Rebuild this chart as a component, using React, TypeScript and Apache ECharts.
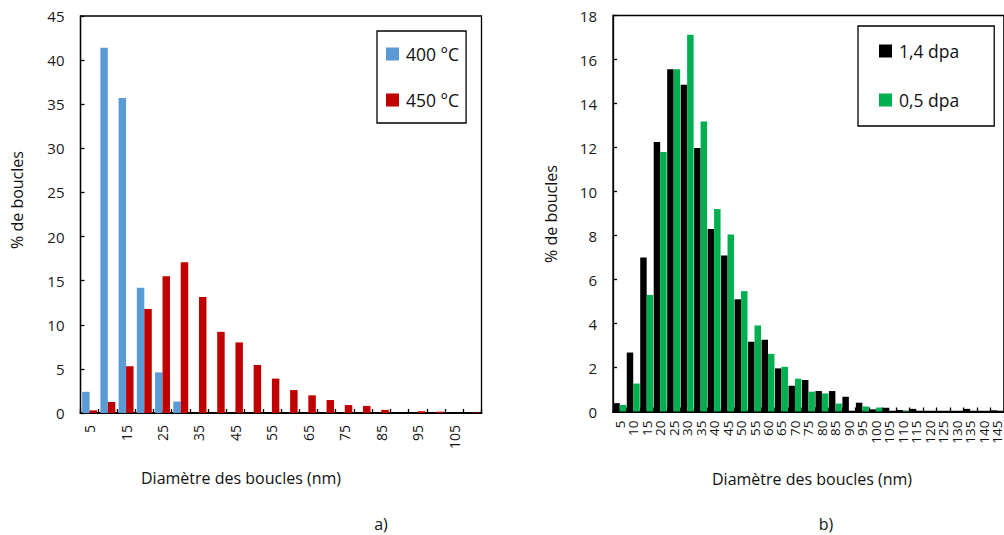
import React, { useEffect, useRef } from "react";
import * as echarts from "echarts";

const FONT = "Open Sans";

const leftCats = ["5","10","15","20","25","30","35","40","45","50","55","60","65","70","75","80","85","90","95","100","105","110"];
const s400 = [2.4, 41.4, 35.7, 14.2, 4.6, 1.3, 0, 0, 0, 0, 0, 0, 0, 0, 0, 0, 0, 0, 0, 0, 0, 0];
const s450 = [0.3, 1.25, 5.3, 11.8, 15.5, 17.1, 13.15, 9.2, 8.0, 5.45, 3.9, 2.6, 2.0, 1.47, 0.9, 0.8, 0.35, 0, 0.2, 0.15, 0, 0.05];

const rightCats = ["5","10","15","20","25","30","35","40","45","50","55","60","65","70","75","80","85","90","95","100","105","110","115","120","125","130","135","140","145"];
const s14 = [0.38, 2.68, 7.0, 12.25, 15.56, 14.85, 11.98, 8.3, 7.09, 5.1, 3.17, 3.26, 1.96, 1.17, 1.43, 0.93, 0.93, 0.67, 0.4, 0.1, 0.17, 0.07, 0.12, 0, 0, 0, 0.12, 0, 0.05];
const s05 = [0.3, 1.27, 5.3, 11.8, 15.56, 17.12, 13.18, 9.21, 8.05, 5.47, 3.91, 2.62, 2.03, 1.49, 0.9, 0.82, 0.36, 0, 0.23, 0.18, 0, 0.03, 0, 0, 0, 0, 0, 0, 0];

const leftTicks = { min: 0, max: 45, interval: 5 };
const rightTicks = { min: 0, max: 18, interval: 2 };

export default function App() {
  const ref = useRef<HTMLDivElement>(null);
  useEffect(() => {
    if (!ref.current) return;
    const chart = echarts.init(ref.current, null, { renderer: "svg" });
    const axisLabelY = { fontFamily: FONT, fontSize: 15, color: "#1a1a1a", margin: 16 };
    const legendBase = {
      orient: "vertical",
      itemWidth: 13,
      itemHeight: 13,
      icon: "rect",
      borderColor: "#000",
      borderWidth: 1.3,
      textStyle: { fontFamily: FONT, fontSize: 17.5, color: "#111", lineHeight: 13, padding: [0, 0, 0, 2] },
    };
    const titleStyle = { fontFamily: FONT, fontSize: 16, fill: "#111", textAlign: "center", textVerticalAlign: "middle" };
    chart.setOption({
      animation: false,
      backgroundColor: "#fff",
      grid: [
        { left: 80.5, top: 16, width: 401, height: 397, show: true, borderColor: "#000", borderWidth: 1.3, containLabel: false },
        { left: 613, top: 15.5, right: -7, height: 396, show: true, borderColor: "#000", borderWidth: 1.3, containLabel: false },
      ],
      xAxis: [
        {
          type: "category", gridIndex: 0, data: leftCats,
          axisLine: { lineStyle: { color: "#000", width: 2 } },
          axisTick: { show: true, inside: true, length: 4, interval: 0, lineStyle: { color: "#000", width: 1.3 } },
          axisLabel: { interval: 1, rotate: 90, fontFamily: FONT, fontSize: 14, color: "#111", margin: 12 },
        },
        {
          type: "category", gridIndex: 1, data: rightCats,
          axisLine: { lineStyle: { color: "#000", width: 2 } },
          axisTick: { show: true, inside: true, length: 4, interval: 0, lineStyle: { color: "#000", width: 1.3 } },
          axisLabel: { interval: 0, rotate: 90, fontFamily: FONT, fontSize: 13.5, color: "#111", margin: 9 },
        },
      ],
      yAxis: [
        {
          type: "value", gridIndex: 0, ...leftTicks,
          splitLine: { show: false },
          axisLine: { show: true, lineStyle: { color: "#000", width: 1.3 } },
          axisTick: { show: true, inside: true, length: 4, lineStyle: { color: "#000", width: 1.3 } },
          axisLabel: axisLabelY,
        },
        {
          type: "value", gridIndex: 1, ...rightTicks,
          splitLine: { show: false },
          axisLine: { show: true, lineStyle: { color: "#000", width: 1.3 } },
          axisTick: { show: true, inside: true, length: 4, lineStyle: { color: "#000", width: 1.3 } },
          axisLabel: axisLabelY,
        },
      ],
      legend: [
        { ...legendBase, data: ["400 °C", "450 °C"], left: 377, top: 31, itemGap: 28, padding: [14, 7, 14, 9] },
        { ...legendBase, data: ["1,4 dpa", "0,5 dpa"], left: 858, top: 26, itemGap: 31, padding: [16, 35, 17, 21] },
      ],
      series: [
        { type: "bar", name: "400 °C", xAxisIndex: 0, yAxisIndex: 0, data: s400, itemStyle: { color: "#5B9BD5" }, barGap: "0%", barCategoryGap: "18%" },
        { type: "bar", name: "450 °C", xAxisIndex: 0, yAxisIndex: 0, data: s450, itemStyle: { color: "#C00000" }, barGap: "0%", barCategoryGap: "18%" },
        { type: "bar", name: "1,4 dpa", xAxisIndex: 1, yAxisIndex: 1, data: s14, itemStyle: { color: "#000000" }, barGap: "0%", barCategoryGap: "4%" },
        { type: "bar", name: "0,5 dpa", xAxisIndex: 1, yAxisIndex: 1, data: s05, itemStyle: { color: "#00B050" }, barGap: "0%", barCategoryGap: "4%" },
      ],
      graphic: [
        { type: "text", x: 17, y: 200, rotation: Math.PI / 2, style: { ...titleStyle, text: "% de boucles" } },
        { type: "text", x: 551, y: 214, rotation: Math.PI / 2, style: { ...titleStyle, text: "% de boucles" } },
        { type: "text", x: 241, y: 478, style: { ...titleStyle, text: "Diamètre des boucles (nm)" } },
        { type: "text", x: 812, y: 479, style: { ...titleStyle, text: "Diamètre des boucles (nm)" } },
        { type: "text", x: 381, y: 524, style: { ...titleStyle, text: "a)" } },
        { type: "text", x: 826, y: 524, style: { ...titleStyle, text: "b)" } },
      ],
    });
    return () => chart.dispose();
  }, []);
  return <div ref={ref} style={{ position: "absolute", left: 0, top: 0, width: 1004, height: 535 }} />;
}
